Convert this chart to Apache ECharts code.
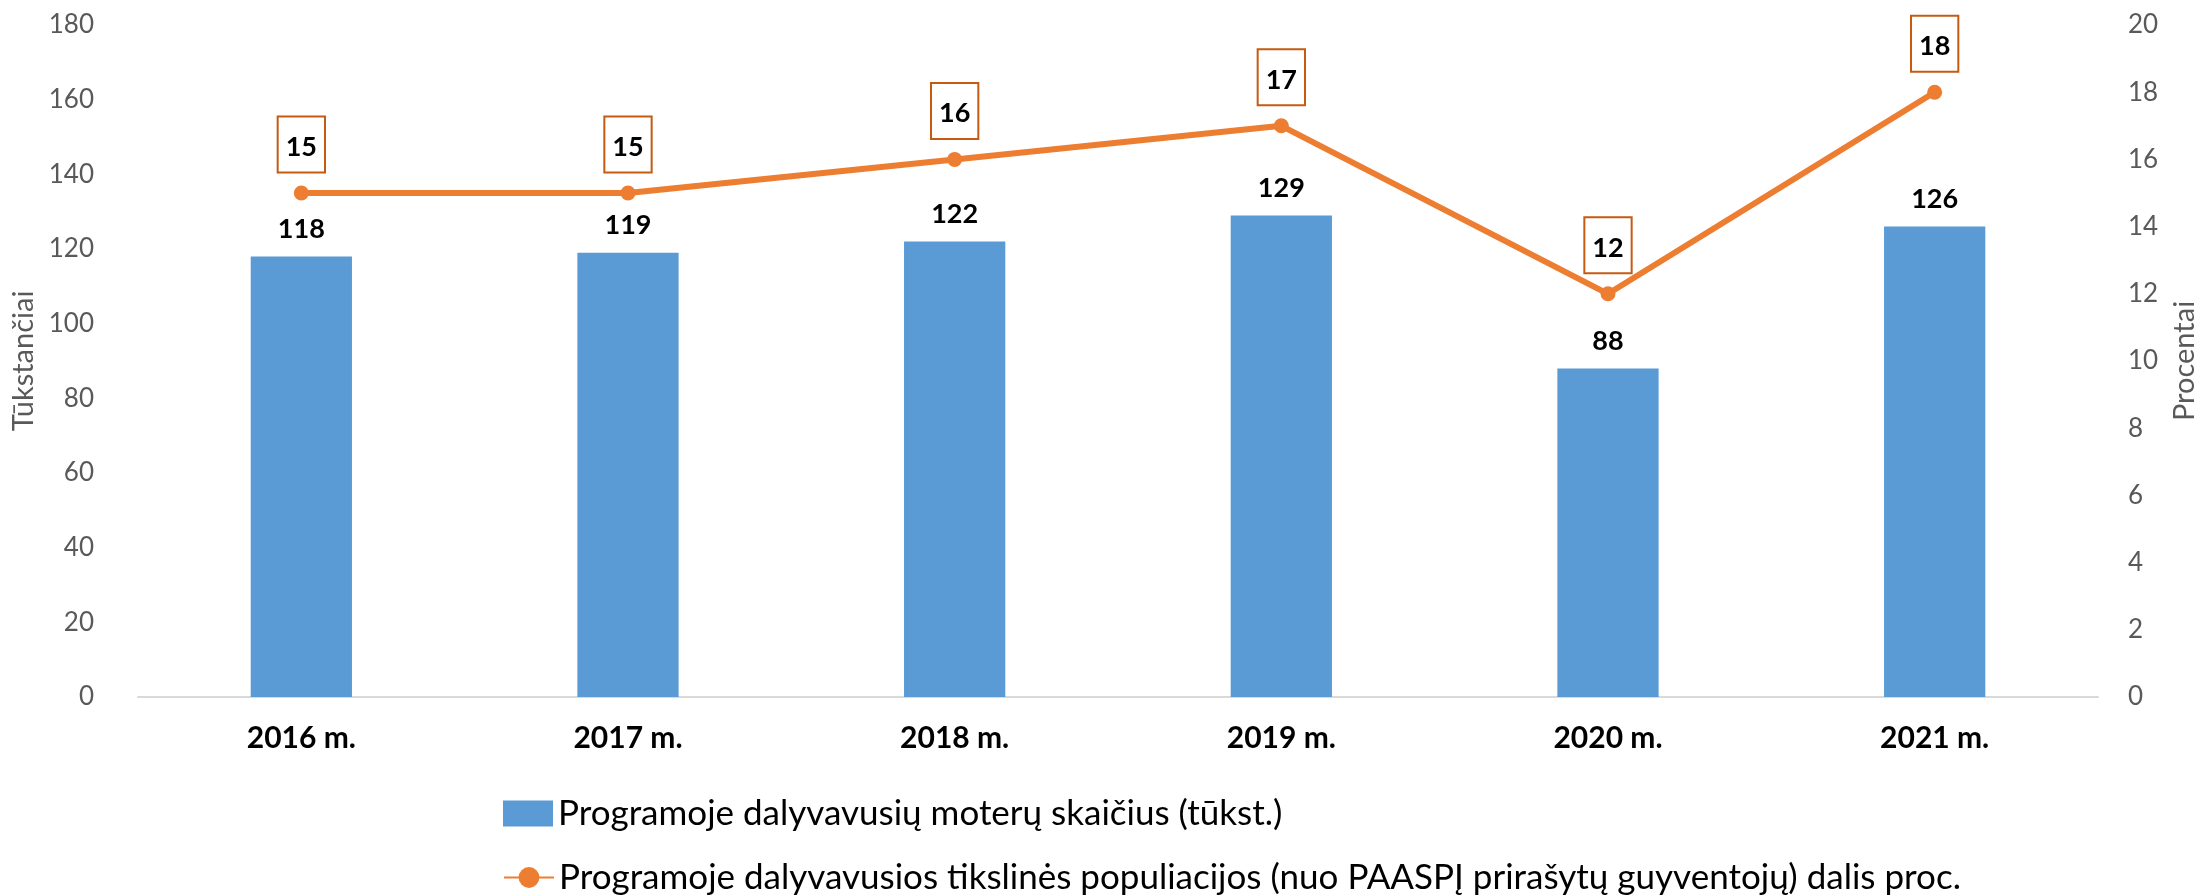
<!DOCTYPE html>
<html>
<head>
<meta charset="utf-8">
<script src="https://cdn.jsdelivr.net/npm/echarts@6/dist/echarts.min.js"></script>
<style>
  html, body { margin: 0; padding: 0; background: #fff; }
  #chart { width: 2208px; height: 895px; }
</style>
</head>
<body>
<div id="chart"></div>
<script>
// metai
const years = ['2016 m.', '2017 m.', '2018 m.', '2019 m.', '2020 m.', '2021 m.']
// dalyvavusių moterų skaičius (tūkst.)
const women = [118, 119, 122, 129, 88, 126]
// dalis proc.
const share = [15, 15, 16, 17, 12, 18]

const barName = 'Programoje dalyvavusių moterų skaičius (tūkst.)'
const lineName = 'Programoje dalyvavusios tikslinės populiacijos (nuo PAASPĮ prirašytų guyventojų) dalis proc.'
const font = 'Lato'

// dvi legendos eilutės, kad neišsidėstytų horizontaliai
const legendBase = {
  orient: 'vertical',
  left: 498,
  itemWidth: 50,
  itemHeight: 26,
  textStyle: { fontSize: 35, color: '#000', fontFamily: font }
}

const chart = echarts.init(document.getElementById('chart'))
chart.setOption({
  animation: false,
  textStyle: { fontFamily: font },
  grid: { left: 138, right: 110, top: 25, bottom: 198, outerBoundsMode: 'none' },
  legend: [
    Object.assign({}, legendBase, { top: 791, data: [{ name: barName, icon: 'rect' }] }),
    Object.assign({}, legendBase, { top: 855, data: [{ name: lineName }] })
  ],
  xAxis: {
    type: 'category',
    data: years,
    axisLine: { lineStyle: { color: '#D9D9D9', width: 2 } },
    axisTick: { show: false },
    axisLabel: { fontSize: 30, fontWeight: 'bold', color: '#000', margin: 26 }
  },
  yAxis: [
    {
      type: 'value',
      min: 0,
      max: 180,
      interval: 20,
      name: 'Tūkstančiai',
      nameLocation: 'middle',
      nameRotate: 90,
      nameGap: 100,
      nameTextStyle: { fontSize: 29, color: '#595959' },
      splitLine: { show: false },
      axisLabel: { fontSize: 26, color: '#595959', margin: 44 }
    },
    {
      type: 'value',
      min: 0,
      max: 20,
      interval: 2,
      name: 'Procentai',
      nameLocation: 'middle',
      nameRotate: 90,
      nameGap: 72,
      nameMoveOverlap: false,
      nameTextStyle: { fontSize: 29, color: '#595959' },
      splitLine: { show: false },
      axisLabel: { fontSize: 26, color: '#595959', margin: 30 }
    }
  ],
  series: [
    {
      name: barName,
      type: 'bar',
      data: women,
      barWidth: '31%',
      itemStyle: { color: '#5B9BD5' },
      label: {
        show: true,
        position: 'top',
        distance: 14,
        fontSize: 27,
        fontWeight: 'bold',
        color: '#000'
      }
    },
    {
      name: lineName,
      type: 'line',
      yAxisIndex: 1,
      data: share,
      symbol: 'circle',
      symbolSize: 15,
      lineStyle: { color: '#ED7D31', width: 6 },
      itemStyle: { color: '#ED7D31' },
      label: {
        show: true,
        position: 'top',
        distance: 14,
        fontSize: 27,
        fontWeight: 'bold',
        color: '#000',
        backgroundColor: '#fff',
        borderColor: '#C55A11',
        borderWidth: 2,
        padding: [16, 7, 11, 7]
      }
    }
  ]
})
</script>
</body>
</html>
